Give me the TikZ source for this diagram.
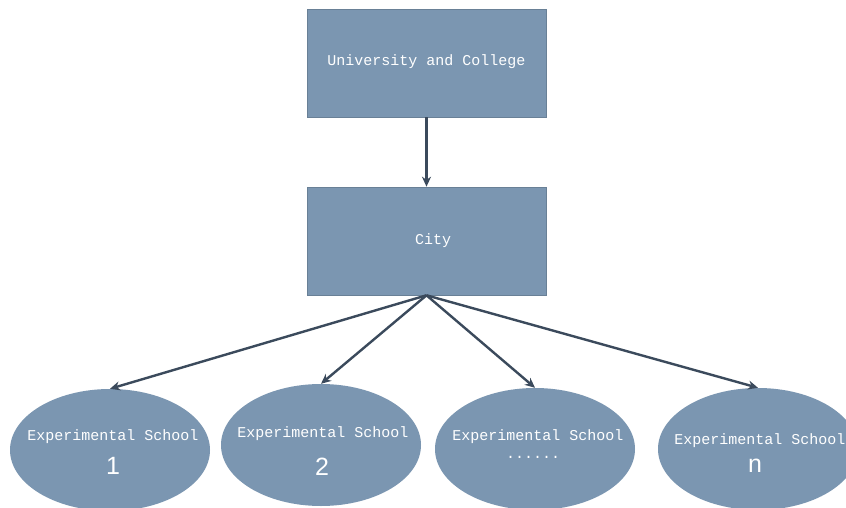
\documentclass[tikz,border=0pt]{standalone}
\usepackage{fontspec}
\setmonofont{Liberation Mono}
\setsansfont{Liberation Sans}
\usetikzlibrary{shapes.geometric,arrows.meta}
\definecolor{boxblue}{HTML}{7B96B1}
\definecolor{arrowc}{HTML}{3B4A5C}
\begin{document}
\begin{tikzpicture}[x=1pt,y=-1pt,
  box/.style={rectangle,fill=boxblue,draw=boxblue!85!black,line width=0.6pt,minimum width=239pt,minimum height=108pt,inner sep=0pt},
  school/.style={ellipse,fill=boxblue,minimum width=200pt,minimum height=122pt,inner sep=0pt},
  lbl/.style={text=white,font=\ttfamily\fontsize{15}{18}\selectfont,inner sep=0pt},
  num/.style={text=white,font=\sffamily\fontsize{25}{28}\selectfont,inner sep=0pt},
  conn/.style={draw=arrowc,line width=2.4pt,-{Stealth[length=10pt,width=9pt]}}]
\useasboundingbox (0,0) rectangle (846,508);
\fill[white] (0,0) rectangle (846,508);
\node[box] (uni) at (426.5,63) {};
\node[lbl] (unit) at (426.5,62) {University and College};
\node[box] (city) at (426.5,241) {};
\node[lbl] (cityt) at (433,241) {City};
\node[school] (e1) at (110,450) {};
\node[school] (e2) at (321,445) {};
\node[school] (e3) at (535,449) {};
\node[school] (e4) at (758,449) {};
\node[lbl] (t1) at (113,437) {Experimental School};
\node[num] (n1) at (113,466) {1};
\node[lbl] (t2) at (323,434) {Experimental School};
\node[num] (n2) at (322,467) {2};
\node[lbl] (t3) at (538,437) {Experimental School};
\node[lbl] (n3) at (533,457) {......};
\node[lbl] (t4) at (760,441) {Experimental School};
\node[num] (n4) at (755,466) {n};
\draw[conn] (uni.south) -- (city.north);
\draw[conn] (city.south) -- (e1.north);
\draw[conn] (city.south) -- (e2.north);
\draw[conn] (city.south) -- (e3.north);
\draw[conn] (city.south) -- (e4.north);
\end{tikzpicture}
\end{document}
